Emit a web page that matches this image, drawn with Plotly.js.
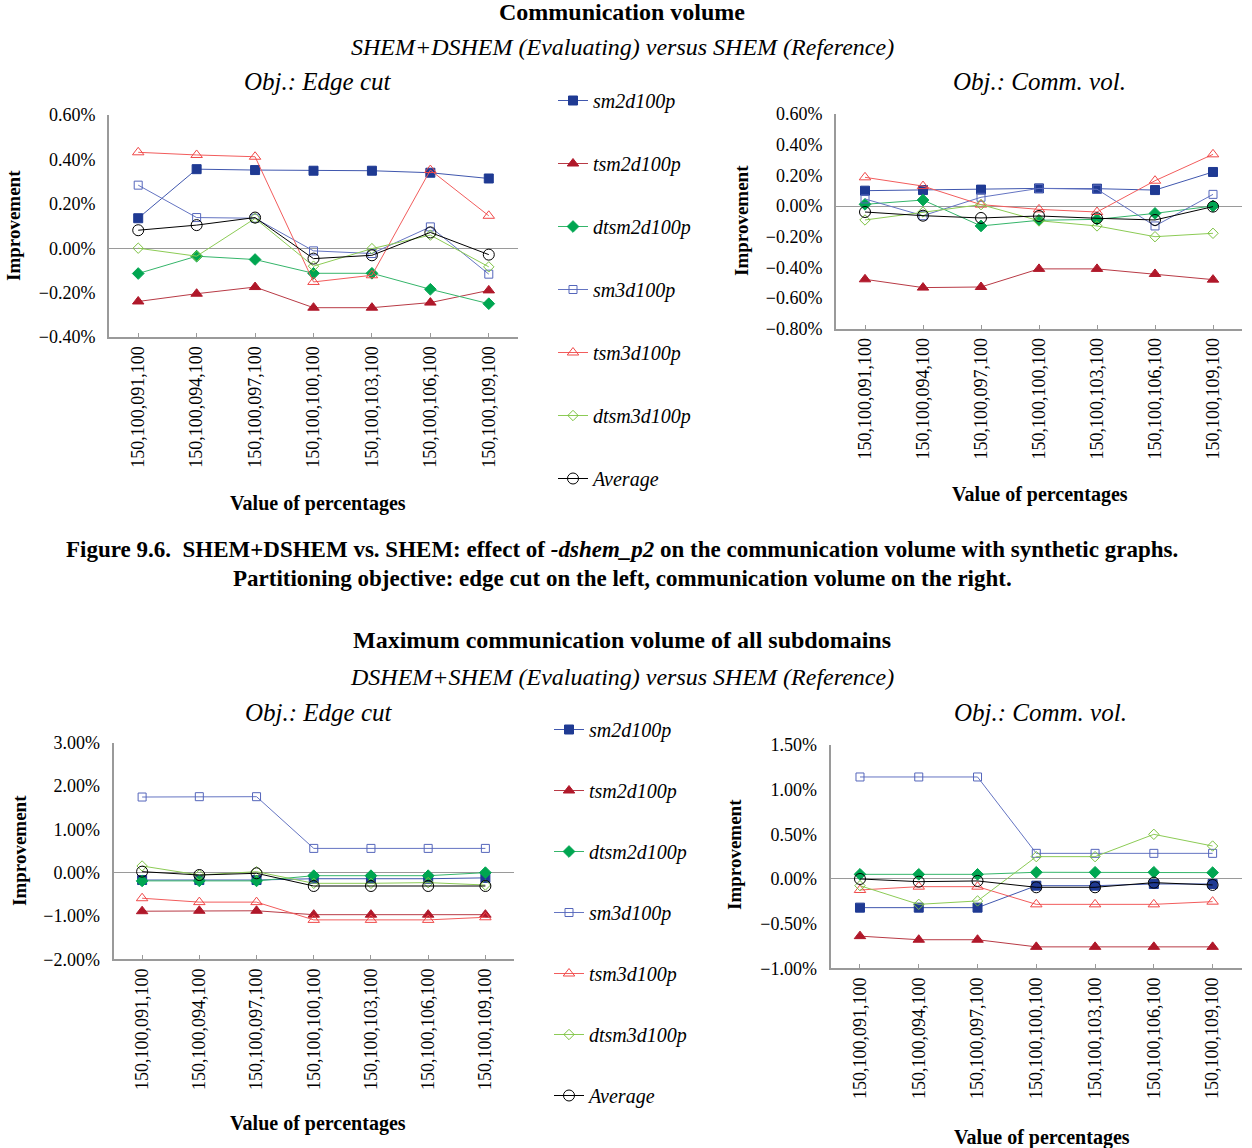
<!DOCTYPE html>
<html>
<head>
<meta charset="utf-8">
<script src="https://cdn.plot.ly/plotly-3.0.1.min.js"></script>
<style>html,body{margin:0;padding:0;background:#fff;}#chart{width:1252px;height:1148px;}</style>
</head>
<body>
<div id="chart"></div>
<script>
// ---------- DATA ----------
const categories = ['150,100,091,100','150,100,094,100','150,100,097,100','150,100,100,100','150,100,103,100','150,100,106,100','150,100,109,100'];
const seriesNames = ['sm2d100p','tsm2d100p','dtsm2d100p','sm3d100p','tsm3d100p','dtsm3d100p','Average'];

// Communication volume, Obj.: Edge cut (improvement, %)
const cvEdge_sm2   = [0.135, 0.356, 0.352, 0.349, 0.349, 0.340, 0.314];
const cvEdge_tsm2  = [-0.240, -0.205, -0.175, -0.268, -0.268, -0.245, -0.190];
const cvEdge_dtsm2 = [-0.114, -0.036, -0.051, -0.113, -0.113, -0.185, -0.250];
const cvEdge_sm3   = [0.284, 0.138, 0.135, -0.012, -0.024, 0.096, -0.117];
const cvEdge_tsm3  = [0.432, 0.420, 0.412, -0.152, -0.122, 0.352, 0.146];
const cvEdge_dtsm3 = [0.000, -0.036, 0.134, -0.081, -0.002, 0.059, -0.084];
const cvEdge_avg   = [0.081, 0.104, 0.138, -0.047, -0.032, 0.071, -0.029];

// Communication volume, Obj.: Comm. vol.
const cvComm_sm2   = [0.100, 0.104, 0.107, 0.115, 0.113, 0.104, 0.222];
const cvComm_tsm2  = [-0.478, -0.532, -0.528, -0.410, -0.410, -0.443, -0.480];
const cvComm_dtsm2 = [0.011, 0.039, -0.130, -0.093, -0.087, -0.048, 0.000];
const cvComm_sm3   = [0.046, -0.063, 0.057, 0.115, 0.109, -0.130, 0.076];
const cvComm_tsm3  = [0.187, 0.130, 0.009, -0.022, -0.039, 0.165, 0.337];
const cvComm_dtsm3 = [-0.091, -0.039, 0.009, -0.096, -0.130, -0.200, -0.178];
const cvComm_avg   = [-0.039, -0.063, -0.078, -0.065, -0.080, -0.091, -0.004];

// Maximum communication volume, Obj.: Edge cut
const mxEdge_sm2   = [-0.17, -0.17, -0.17, -0.14, -0.14, -0.14, -0.12];
const mxEdge_tsm2  = [-0.89, -0.88, -0.88, -0.97, -0.97, -0.97, -0.97];
const mxEdge_dtsm2 = [-0.19, -0.19, -0.19, -0.07, -0.07, -0.07, 0.00];
const mxEdge_sm3   = [1.746, 1.754, 1.754, 0.560, 0.560, 0.560, 0.560];
const mxEdge_tsm3  = [-0.59, -0.68, -0.68, -1.09, -1.09, -1.09, -1.03];
const mxEdge_dtsm3 = [0.154, -0.054, 0.023, -0.246, -0.246, -0.230, -0.285];
const mxEdge_avg   = [0.023, -0.054, -0.015, -0.308, -0.308, -0.308, -0.308];

// Maximum communication volume, Obj.: Comm. vol.
const mxComm_sm2   = [-0.321, -0.321, -0.321, -0.075, -0.075, -0.056, -0.056];
const mxComm_tsm2  = [-0.640, -0.680, -0.680, -0.760, -0.760, -0.760, -0.760];
const mxComm_dtsm2 = [0.052, 0.052, 0.052, 0.075, 0.075, 0.075, 0.071];
const mxComm_sm3   = [1.142, 1.142, 1.142, 0.287, 0.287, 0.287, 0.287];
const mxComm_tsm3  = [-0.123, -0.086, -0.086, -0.284, -0.284, -0.284, -0.254];
const mxComm_dtsm3 = [-0.075, -0.284, -0.246, 0.250, 0.250, 0.500, 0.369];
const mxComm_avg   = [0.000, -0.030, -0.022, -0.093, -0.093, -0.041, -0.067];

// ---------- STYLE ----------
const W = 1252, H = 1148;
const FONT = 'Liberation Serif, Times New Roman, serif';
const styles = [
  {symbol:'square',          color:'#1F3A93', line:'#4057AE', size:9},
  {symbol:'triangle-up',     color:'#B0182A', line:'#B83A45', size:10},
  {symbol:'diamond',         color:'#00A651', line:'#35B56A', size:9},
  {symbol:'square-open',     color:'#5566BB', line:'#6474C2', size:8},
  {symbol:'triangle-up-open',color:'#F04848', line:'#F25C5C', size:10},
  {symbol:'diamond-open',    color:'#7DC242', line:'#8CCB55', size:8},
  {symbol:'circle-open',     color:'#000000', line:'#000000', size:11}
];
const panels = [
  {ax:'', data:[cvEdge_sm2,cvEdge_tsm2,cvEdge_dtsm2,cvEdge_sm3,cvEdge_tsm3,cvEdge_dtsm3,cvEdge_avg], legend:'legend', show:true},
  {ax:'2', data:[cvComm_sm2,cvComm_tsm2,cvComm_dtsm2,cvComm_sm3,cvComm_tsm3,cvComm_dtsm3,cvComm_avg], legend:'legend', show:false},
  {ax:'3', data:[mxEdge_sm2,mxEdge_tsm2,mxEdge_dtsm2,mxEdge_sm3,mxEdge_tsm3,mxEdge_dtsm3,mxEdge_avg], legend:'legend2', show:true},
  {ax:'4', data:[mxComm_sm2,mxComm_tsm2,mxComm_dtsm2,mxComm_sm3,mxComm_tsm3,mxComm_dtsm3,mxComm_avg], legend:'legend2', show:false}
];

const traces = [];
panels.forEach((p, pi) => {
  p.data.forEach((vals, si) => {
    const s = styles[si];
    traces.push({
      type:'scatter', mode:'lines+markers',
      x: categories, y: vals, name: seriesNames[si],
      xaxis:'x'+p.ax, yaxis:'y'+p.ax,
      legend: p.legend, showlegend: p.show,
      legendgroup: (pi < 2 ? 'a' : 'b') + si,
      line:{color:s.line, width:1},
      marker:{symbol:s.symbol, color:s.color, size:s.size, line:{color:s.color, width:1}}
    });
  });
});

function px(x){return x/W;}
function py(y){return 1 - y/H;}

function xax(l, r){
  return {domain:[px(l), px(r)], type:'category', range:[-0.5, 6.5],
    showline:true, linecolor:'#9a9a9a', linewidth:2, ticks:'inside', ticklen:4, tickcolor:'#9a9a9a',
    tickangle:-90, tickfont:{family:FONT, size:18, color:'#000'}, showgrid:false, zeroline:false, fixedrange:true};
}
function yax(b, t, lo, hi, d, anchor){
  return {domain:[py(b), py(t)], range:[lo, hi], dtick:d, tick0:0, tickformat:'.2f', ticksuffix:'%',
    showline:true, linecolor:'#9a9a9a', linewidth:2, ticks:'', ticklabelstandoff:8,
    tickfont:{family:FONT, size:18, color:'#000'}, showgrid:false,
    zeroline:true, zerolinecolor:'#9a9a9a', zerolinewidth:1, anchor:anchor, fixedrange:true};
}

function ann(text, x, y, size, extra){
  return Object.assign({text:text, x:px(x), y:py(y), xref:'paper', yref:'paper', showarrow:false,
    xanchor:'center', yanchor:'middle', font:{family:FONT, size:size, color:'#000'}}, extra||{});
}

const annotations = [
  ann('<b>Communication volume</b>', 622, 12, 24),
  ann('<i>SHEM+DSHEM (Evaluating) versus SHEM (Reference)</i>', 622, 47, 24),
  ann('<i>Obj.: Edge cut</i>', 318, 82, 25),
  ann('<i>Obj.: Comm. vol.</i>', 1039, 82, 25),
  ann('<b>Improvement</b>', 13, 226, 19, {textangle:-90}),
  ann('<b>Improvement</b>', 741, 221, 19, {textangle:-90}),
  ann('<b>Value of percentages</b>', 318, 504, 20),
  ann('<b>Value of percentages</b>', 1040, 494, 20),
  ann('<b>Figure 9.6.  SHEM+DSHEM vs. SHEM: effect of <i>-dshem_p2</i> on the communication volume with synthetic graphs.</b>', 622, 549, 23),
  ann('<b>Partitioning objective: edge cut on the left, communication volume on the right.</b>', 622, 578, 23),
  ann('<b>Maximum communication volume of all subdomains</b>', 622, 640, 24),
  ann('<i>DSHEM+SHEM (Evaluating) versus SHEM (Reference)</i>', 622, 677, 24),
  ann('<i>Obj.: Edge cut</i>', 319, 712, 25),
  ann('<i>Obj.: Comm. vol.</i>', 1040, 713, 25),
  ann('<b>Improvement</b>', 19, 851, 19, {textangle:-90}),
  ann('<b>Improvement</b>', 734, 855, 19, {textangle:-90}),
  ann('<b>Value of percentages</b>', 318, 1123, 20),
  ann('<b>Value of percentages</b>', 1042, 1137, 20)
];

const layout = {
  width:W, height:H, margin:{l:0, r:0, t:0, b:0},
  paper_bgcolor:'#fff', plot_bgcolor:'rgba(0,0,0,0)',
  font:{family:FONT, color:'#000'},
  xaxis: Object.assign(xax(109, 518), {anchor:'y'}),
  yaxis: yax(337, 115, -0.4, 0.6, 0.2, 'x'),
  xaxis2: Object.assign(xax(836, 1242), {anchor:'y2'}),
  yaxis2: yax(328.7, 114, -0.8, 0.6, 0.2, 'x2'),
  xaxis3: Object.assign(xax(113.5, 514), {anchor:'y3'}),
  yaxis3: yax(959.3, 742.7, -2, 3, 1, 'x3'),
  xaxis4: Object.assign(xax(830.6, 1242), {anchor:'y4'}),
  yaxis4: yax(968.3, 745, -1, 1.5, 0.5, 'x4'),
  legend:{x:px(553), y:py(81), xanchor:'left', yanchor:'top', bgcolor:'rgba(0,0,0,0)',
    font:{family:FONT, size:20, style:'italic', color:'#000'}, tracegroupgap:34, itemwidth:30, traceorder:'grouped'},
  legend2:{x:px(549), y:py(710), xanchor:'left', yanchor:'top', bgcolor:'rgba(0,0,0,0)',
    font:{family:FONT, size:20, style:'italic', color:'#000'}, tracegroupgap:32, itemwidth:30, traceorder:'grouped'},
  annotations: annotations,
  showlegend:true
};

Plotly.newPlot('chart', traces, layout, {displayModeBar:false, staticPlot:true});
</script>
</body>
</html>
